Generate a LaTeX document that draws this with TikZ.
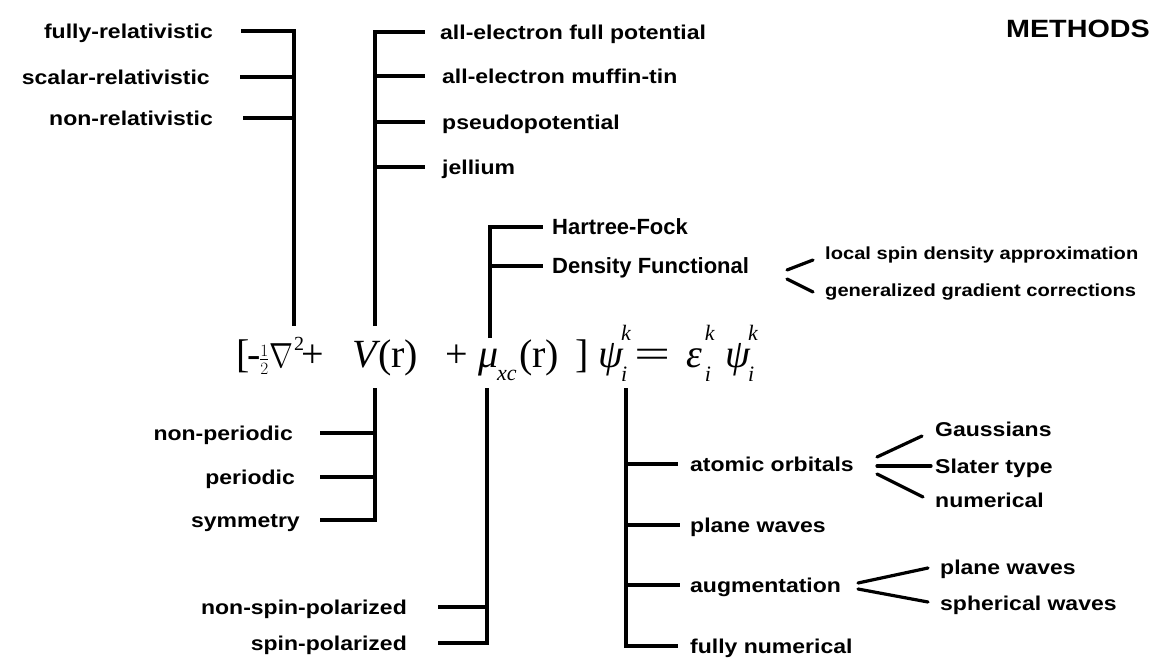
\documentclass[tikz,border=0pt]{standalone}
\usepackage{amsmath}
\usepackage{graphicx}
\usepackage{fontspec}
\newfontfamily\wide[FakeStretch=1.15]{Liberation Sans}
\newfontfamily\plain{Liberation Sans}
\newfontfamily\eqf{Liberation Serif}
\newcommand\supsub[3]{\kern#3\rlap{\raisebox{-14pt}{\fontsize{22}{22}\selectfont #2}}\raisebox{27pt}{\fontsize{22}{22}\selectfont #1}}
\begin{document}
\begin{tikzpicture}[x=1pt,y=-1pt,
  lab/.style={font=\wide\bfseries\fontsize{20}{24}\selectfont,inner sep=0pt,text height=14.5pt,text depth=0.5pt},
  labh/.style={font=\plain\bfseries\fontsize{22}{26}\selectfont,inner sep=0pt,text height=16pt,text depth=0.5pt},
  labs/.style={font=\wide\bfseries\fontsize{17.5}{20}\selectfont,inner sep=0pt,text height=12.7pt,text depth=0.5pt},
  labt/.style={font=\wide\bfseries\fontsize{25}{28}\selectfont,inner sep=0pt,text height=18pt,text depth=0pt},
  eqs/.style={inner sep=0pt,anchor=base west,font=\eqf\fontsize{40}{44}\selectfont},
  ln/.style={line width=3.4pt,line join=miter},
  fk/.style={line width=3.2pt,line cap=round}]
\fill[white] (0,0) rectangle (1170,659);
\useasboundingbox (0,0) rectangle (1170,659);

\node[labt,anchor=east] (me) at (1150,28) {METHODS};

% top-left group
\node[lab,anchor=east] (fr) at (213,31) {fully-relativistic};
\node[lab,anchor=east] (sr) at (210,77) {scalar-relativistic};
\node[lab,anchor=east] (nr) at (213,118) {non-relativistic};
\coordinate (t1b) at (294,326);
\draw[ln,shorten <=28pt] (fr.east) -- (fr.east -| t1b) -- (t1b);
\draw[ln,shorten <=30pt] (sr.east) -- (sr.east -| t1b);
\draw[ln,shorten <=30pt] (nr.east) -- (nr.east -| t1b);

% potential group
\node[lab,anchor=west] (ae1) at (440,32) {all-electron full potential};
\node[lab,anchor=west] (ae2) at (442,76) {all-electron muffin-tin};
\node[lab,anchor=west] (pp) at (442,122) {pseudopotential};
\node[lab,anchor=west] (je) at (442,167) {jellium};
\coordinate (t2b) at (375,326);
\draw[ln,shorten >=15pt] (t2b) -- (ae1.west -| t2b) -- (ae1.west);
\draw[ln,shorten >=17pt] (ae2.west -| t2b) -- (ae2.west);
\draw[ln,shorten >=17pt] (pp.west -| t2b) -- (pp.west);
\draw[ln,shorten >=17pt] (je.west -| t2b) -- (je.west);

% exchange-correlation group
\node[labh,anchor=west] (hf) at (552,227) {Hartree-Fock};
\node[labh,anchor=west] (df) at (552,266) {Density Functional};
\coordinate (t3b) at (490,338);
\draw[ln,shorten >=9pt] (t3b) -- (hf.west -| t3b) -- (hf.west);
\draw[ln,shorten >=9pt] (df.west -| t3b) -- (df.west);

\node[labs,anchor=west] (lsd) at (825,253) {local spin density approximation};
\node[labs,anchor=west] (ggc) at (825,290) {generalized gradient corrections};
\coordinate (dff) at (787,275);
\draw[fk] ([yshift=5pt]dff) -- ([xshift=-12pt,yshift=-7pt]lsd.west);
\draw[fk] ([yshift=-4pt]dff) -- ([xshift=-12pt,yshift=-2pt]ggc.west);

% equation
\node[eqs] (eqlb) at (236,367) {[};
\node[eqs] (eqmn) at (247,367) {-};
\node[eqs,font=\fontsize{24}{26}\selectfont] (eqhf) at (259,366) {$\tfrac12$};
\node[eqs,font=\fontsize{24}{26}\selectfont] (eqnb) at (269,367) {\scalebox{1.15}[1.4]{$\nabla$}};
\node[eqs,font=\eqf\fontsize{20}{22}\selectfont] (eqsq) at (294,350) {2};
\node[eqs] (eqp1) at (301,367) {+};
\node[eqs] (eqV) at (352,367) {\itshape V};
\node[eqs] (eqr1) at (378,367) {(r)};
\node[eqs] (eqp2) at (445,367) {+};
\node[eqs] (eqmu) at (478,367) {\itshape μ};
\node[eqs,font=\eqf\itshape\fontsize{22}{24}\selectfont] (eqxc) at (497,380) {xc};
\node[eqs] (eqr2) at (519,367) {(r)};
\node[eqs] (eqrb) at (575,367) {]};
\node[eqs] (eqpsi) at (598,367) {\itshape ψ\supsub{k}{i}{-2pt}};
\node[eqs] (eqeq) at (634,367) {\scalebox{1.6}[1]{=}};
\node[eqs] (eqeps) at (686,367) {\itshape ε\supsub{k}{i}{3pt}};
\node[eqs] (eqpsb) at (725,367) {\itshape ψ\supsub{k}{i}{-2pt}};

% bottom-left: boundary conditions
\node[lab,anchor=east] (np) at (293,433) {non-periodic};
\node[lab,anchor=east] (pe) at (295,477) {periodic};
\node[lab,anchor=east] (sy) at (300,520) {symmetry};
\coordinate (b1t) at (375,388);
\draw[ln,shorten <=27pt] (np.east) -- (np.east -| b1t);
\draw[ln,shorten <=25pt] (pe.east) -- (pe.east -| b1t);
\draw[ln,shorten >=20pt] (b1t) -- (sy.east -| b1t) -- (sy.east);

% spin
\node[lab,anchor=east] (nsp) at (407,607) {non-spin-polarized};
\node[lab,anchor=east] (spp) at (407,643) {spin-polarized};
\coordinate (b2t) at (487,388);
\draw[ln,shorten <=31pt] (nsp.east) -- (nsp.east -| b2t);
\draw[ln,shorten >=31pt] (b2t) -- (spp.east -| b2t) -- (spp.east);

% basis
\node[lab,anchor=west] (ao) at (690,464) {atomic orbitals};
\node[lab,anchor=west] (pw) at (690,525) {plane waves};
\node[lab,anchor=west] (au) at (690,585) {augmentation};
\node[lab,anchor=west] (fn) at (690,646) {fully numerical};
\coordinate (b3t) at (626,388);
\draw[ln,shorten >=12pt] (b3t) -- (fn.west -| b3t) -- (fn.west);
\draw[ln,shorten >=12pt] (ao.west -| b3t) -- (ao.west);
\draw[ln,shorten >=10pt] (pw.west -| b3t) -- (pw.west);
\draw[ln,shorten >=10pt] (au.west -| b3t) -- (au.west);

\node[lab,anchor=west] (ga) at (935,429) {Gaussians};
\node[lab,anchor=west] (st) at (935,466) {Slater type};
\node[lab,anchor=west] (nu) at (935,500) {numerical};
\coordinate (aof) at (877,466);
\draw[fk] ([yshift=9pt]aof) -- ([xshift=-13pt,yshift=-7pt]ga.west);
\draw[fk] (aof) -- ([xshift=-4pt]st.west);
\draw[fk] ([yshift=-8pt]aof) -- ([xshift=-12pt,yshift=3pt]nu.west);

\node[lab,anchor=west] (pw2) at (940,567) {plane waves};
\node[lab,anchor=west] (sw) at (940,603) {spherical waves};
\coordinate (auf) at (858,586);
\draw[fk] ([yshift=3pt]auf) -- ([xshift=-12pt,yshift=-1pt]pw2.west);
\draw[fk] ([yshift=-3pt]auf) -- ([xshift=-12pt,yshift=1pt]sw.west);
\end{tikzpicture}
\end{document}
